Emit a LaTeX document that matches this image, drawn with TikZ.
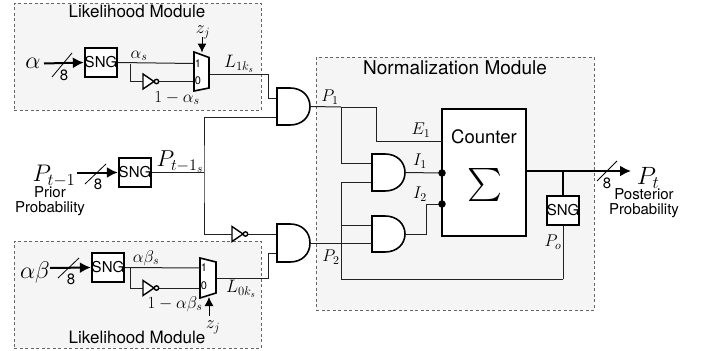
\documentclass[tikz,border=0pt]{standalone}
\usepackage{fix-cm}
\usepackage{graphicx}
\usepackage{fontspec}
\setmainfont{TeX Gyre Heros}
\usetikzlibrary{arrows.meta}
\definecolor{modfill}{HTML}{F5F5F5}
\definecolor{modline}{HTML}{666666}
\definecolor{wirecol}{HTML}{222222}
\newcommand{\fsz}[1]{\fontsize{#1}{#1}\selectfont}
\tikzset{
  x=1pt,y=-1pt,
  module/.style={draw=modline,fill=modfill,dashed,dash pattern=on 3pt off 2.5pt,line width=.8pt},
  wire/.style={draw=wirecol,line width=1pt},
  bus/.style={draw=black,line width=2pt},
  busarrow/.style={bus,-{Latex[length=11pt,width=11pt]}},
  thinarrow/.style={draw=black,line width=1pt,-{Latex[length=9pt,width=9pt]}},
  slash/.style={draw=black,line width=.8pt},
  gatebody/.style={draw=black,fill=white,line width=1.6pt},
  sngbox/.style={draw=black,fill=white,line width=1.8pt,minimum width=32pt,minimum height=29pt,inner sep=0pt,font=\fsz{15}},
  counterbox/.style={draw=black,fill=white,line width=2pt,minimum width=84pt,minimum height=127pt,inner sep=0pt},
  lab/.style={inner sep=0pt,font=\fsz{17}},
  mlab/.style={inner sep=0pt,font=\fsz{17}},
  small/.style={inner sep=0pt,font=\fsz{15}},
  muxnum/.style={inner sep=0pt,font=\fsz{11}},
  jdot/.style={circle,fill=black,inner sep=0pt,minimum size=7.5pt},
}
% AND gate: name, left x, top y, bottom y
\newcommand{\andgate}[4]{%
  \path[gatebody] (#2,#3) -- (#2+13,#3) .. controls (#2+25,#3) and (#2+33,#3+8) .. (#2+33,{(#3+#4)/2})
    .. controls (#2+33,#4-8) and (#2+25,#4) .. (#2+13,#4) -- (#2,#4) -- cycle;
  \coordinate (#1out) at (#2+33,{(#3+#4)/2});
}
% inverter: name, left x, centre y
\newcommand{\inverter}[3]{%
  \path[draw=black,fill=white,line width=1.4pt] (#2,#3-7.5) -- (#2+11,#3) -- (#2,#3+7.5) -- cycle;
  \path[draw=black,fill=white,line width=1.4pt] (#2+13.5,#3) circle (2.2);
  \coordinate (#1in) at (#2,#3);
  \coordinate (#1out) at (#2+15.7,#3);
}
\begin{document}
\begin{tikzpicture}
\useasboundingbox (0,0) rectangle (702,351);
% modules
\node[module,minimum width=247pt,minimum height=107pt,inner sep=0pt] (modA) at (137.5,56.5) {};
\node[module,minimum width=247pt,minimum height=107pt,inner sep=0pt] (modB) at (137.5,294.5) {};
\node[module,minimum width=278pt,minimum height=253pt,inner sep=0pt] (modN) at (455,183.5) {};
\node[lab] (tA) at (137,11) {Likelihood Module};
\node[lab] (tB) at (137,337) {Likelihood Module};
\node[inner sep=0pt,font=\fsz{19}] (tN) at (455,68) {Normalization Module};

% blocks
\node[sngbox] (snga) at (101,62.5) {SNG};
\node[sngbox] (sngb) at (135,172.5) {SNG};
\node[sngbox] (sngc) at (108,267.5) {SNG};
\node[sngbox] (sngd) at (563,210.5) {SNG};
\node[counterbox] (cnt) at (484,172.5) {};
\node[inner sep=0pt,font=\fsz{18.5}] (cntlab) at (484,137) {Counter};
\node[inner sep=0pt] (sig) at (484.5,184.5) {\resizebox*{35pt}{33pt}{$\sum$}};

% named ports
\coordinate (muxAin1) at (194,63.5);
\coordinate (muxAin0) at (194,81.5);
\coordinate (muxAout) at (209,74);
\coordinate (muxBin1) at (200,268);
\coordinate (muxBin0) at (200,288);
\coordinate (muxBout) at (216,278);
\coordinate (a1i1) at (277,98.5);
\coordinate (a1i2) at (277,117);
\coordinate (a2i1) at (372,163);
\coordinate (a2i2) at (372,182);
\coordinate (a3i1) at (372,225);
\coordinate (a3i2) at (372,243);
\coordinate (a4i1) at (277,234);
\coordinate (a4i2) at (277,253);
\coordinate (jA) at (130,63.5);
\coordinate (jC) at (130,268);
\coordinate (jP) at (204,172.5);
\coordinate (jP1) at (341,107);
\coordinate (jE) at (376,107);
\coordinate (jR) at (341,182);
\coordinate (jQ) at (341,225);
\coordinate (e1) at (442,141);
\coordinate (i1) at (442,173);
\coordinate (i2) at (442,204);
\coordinate (fb) at (563,279);
\coordinate (fbl) at (341,279);
\coordinate (outj) at (563,171);
\coordinate (outs) at (526,171);
\coordinate (oute) at (631,171);
\coordinate (zA) at (202,37);
\coordinate (zAm) at (202,52.5);
\coordinate (zB) at (209,316);
\coordinate (zBm) at (209,297);
\coordinate (inA) at (44,63.5);
\coordinate (inB) at (77,172.5);
\coordinate (inC) at (50,268);
\coordinate (bendA) at (268,98.5);
\coordinate (bendB) at (268,253);
\coordinate (bendI) at (426,204);

% wires
\inverter{ia}{143}{81.5}
\inverter{ib}{143}{288}
\inverter{ic}{232}{234}
\draw[wire] (snga.east) -- (muxAin1);
\draw[wire] (jA) |- (iain);
\draw[wire] (iaout) -- (muxAin0);
\draw[wire] (sngc.east) -- (muxBin1);
\draw[wire] (jC) |- (ibin);
\draw[wire] (ibout) -- (muxBin0);
\draw[wire] (muxAout) -| (bendA) -- (a1i1);
\draw[wire] (muxBout) -| (bendB) -- (a4i2);
\draw[wire] (sngb.east) -- (jP);
\draw[wire] (a1i2) -| (jP) |- (icin);
\draw[wire] (icout) -- (a4i1);
\draw[wire] (e1) -| (jE) -- (jP1);
\draw[wire] (a2i1) -| (jP1);
\draw[wire] (a2i2) -- (jR);
\draw[wire] (jR) -- (fbl) -- (fb);
\draw[wire] (a3i1) -- (jQ);
\draw[wire] (fb) -- (sngd.south);
\draw[bus] (outj) -- (sngd.north);

% gates drawn above wires
\andgate{aa}{277}{88}{125}
\andgate{ab}{372}{154}{191}
\andgate{ac}{372}{216}{252}
\andgate{ad}{277}{224}{262}
\draw[wire] (aaout) -- (jP1);
\draw[wire] (adout) -- (a3i2);
\draw[wire] (about) -- (i1);
\draw[wire] (acout) -| (bendI) -- (i2);

% muxes
\path[gatebody] (194,52) -- (209,57.5) -- (209,88) -- (194,91) -- cycle;
\path[gatebody] (200,258) -- (216,262) -- (216,293) -- (200,298) -- cycle;
\node[muxnum] (m1a) at (198,64) {1};
\node[muxnum] (m0a) at (198,81) {0};
\node[muxnum] (m1b) at (204,268) {1};
\node[muxnum] (m0b) at (204,286) {0};
\draw[thinarrow] (zA) -- (zAm);
\draw[thinarrow] (zB) -- (zBm);

% buses
\draw[busarrow] (inA) -- (snga.west);
\draw[busarrow] (inB) -- (sngb.west);
\draw[busarrow] (inC) -- (sngc.west);
\draw[busarrow] (outs) -- (oute);
\draw[slash] (52,77) -- (72,53);
\draw[slash] (85,184) -- (106,164);
\draw[slash] (58,278) -- (79,258);
\draw[slash] (597,181) -- (617,161);

% junction dots
\node[jdot] (d1) at (i1) {};
\node[jdot] (d2) at (i2) {};

% labels
\node[inner sep=0pt,font=\fsz{24}] (la) at (33,63) {$\alpha$};
\node[inner sep=0pt,font=\fsz{24}] (lab) at (35,272) {$\alpha\beta$};
\node[inner sep=0pt,font=\fsz{24}] (lp) at (54,176) {$P_{t-1}$};
\node[inner sep=0pt,font=\fsz{25}] (lq) at (648,178) {$P_{t}$};
\node[inner sep=0pt,font=\fsz{23}] (lps) at (180,162) {$P_{t-1_s}$};
\node[small] (e8a) at (64,75) {8};
\node[small] (e8b) at (98,184) {8};
\node[small] (e8c) at (71,279) {8};
\node[small] (e8d) at (607,183) {8};
\node[small] (pr1) at (50,192) {Prior};
\node[small] (pr2) at (50,209) {Probability};
\node[small] (po1) at (644,194) {Posterior};
\node[small] (po2) at (644,211) {Probability};
\node[mlab] (as) at (139,56) {$\alpha_s$};
\node[mlab] (nas) at (177,98) {$1-\alpha_s$};
\node[mlab] (abs) at (146,258) {$\alpha\beta_s$};
\node[mlab] (nabs) at (175,304) {$1-\alpha\beta_s$};
\node[inner sep=0pt,font=\fsz{18}] (zja) at (203,32) {$z_j$};
\node[inner sep=0pt,font=\fsz{18}] (zjb) at (213,327) {$z_j$};
\node[inner sep=0pt,font=\fsz{18}] (l1) at (239,64) {$L_{1k_s}$};
\node[inner sep=0pt,font=\fsz{18}] (l0) at (241,289) {$L_{0k_s}$};
\node[mlab] (p1) at (330,97) {$P_1$};
\node[mlab] (p2) at (331,257) {$P_2$};
\node[mlab] (e1l) at (421,130) {$E_1$};
\node[mlab] (i1l) at (420,161) {$I_1$};
\node[mlab] (i2l) at (420,194) {$I_2$};
\node[mlab] (pol) at (553,242) {$P_o$};
\end{tikzpicture}
\end{document}
